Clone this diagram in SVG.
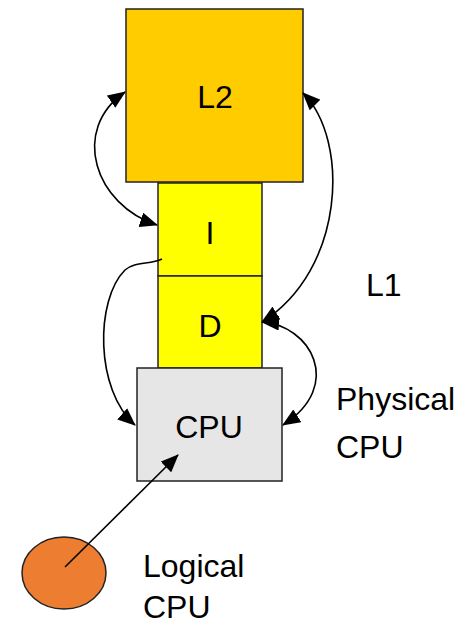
<svg xmlns="http://www.w3.org/2000/svg" width="471" height="630" viewBox="0 0 471 630">
<style>
.box{stroke:#222;stroke-width:1.5}
.lbl{font-family:"Liberation Sans",Arial,sans-serif;font-size:32px;fill:#000}
.conn{fill:none;stroke:#000;stroke-width:1.6}
</style>
<defs>
<marker id="ah" markerUnits="userSpaceOnUse" markerWidth="18" markerHeight="15" refX="17" refY="7.5" orient="auto-start-reverse" viewBox="0 0 18 15">
<path d="M0,0 L18,7.5 L0,15 z" fill="#000"/>
</marker>
</defs>
<rect width="471" height="630" fill="#fff"/>
<g id="L2">
<rect class="box" x="126" y="9" width="177" height="173" fill="#FFCC00"/>
<text class="lbl" x="215" y="108" text-anchor="middle">L2</text>
</g>
<g id="I">
<rect class="box" x="158" y="183" width="104" height="93" fill="#FFFF00"/>
<text class="lbl" x="210" y="244" text-anchor="middle">I</text>
</g>
<g id="D">
<rect class="box" x="158" y="276" width="104" height="92" fill="#FFFF00"/>
<text class="lbl" x="210" y="337" text-anchor="middle">D</text>
</g>
<g id="CPU">
<rect class="box" x="137" y="368" width="145" height="113" fill="#E6E6E6"/>
<text class="lbl" x="209" y="438" text-anchor="middle">CPU</text>
</g>
<g id="logical">
<ellipse cx="64" cy="573" rx="42" ry="36" fill="#ED7D31" stroke="#222" stroke-width="1.5"/>
</g>
<g id="labels">
<text class="lbl" x="366" y="296">L1</text>
<text class="lbl" x="336" y="410">Physical</text>
<text class="lbl" x="336" y="458">CPU</text>
<text class="lbl" x="143" y="577">Logical</text>
<text class="lbl" x="143" y="618">CPU</text>
</g>
<g id="connectors">
<path class="conn" d="M157,225 C95,205 70,130 125,92" marker-start="url(#ah)" marker-end="url(#ah)"/>
<path class="conn" d="M303,93 C350,140 345,270 262,322" marker-start="url(#ah)" marker-end="url(#ah)"/>
<path class="conn" d="M162,259 C150,265 135,261 125,270 C95,300 95,390 135,425" marker-end="url(#ah)"/>
<path class="conn" d="M262,322 C310,325 345,385 283,425" marker-start="url(#ah)" marker-end="url(#ah)"/>
<line class="conn" x1="65" y1="567" x2="178" y2="455" marker-end="url(#ah)"/>
</g>
</svg>
